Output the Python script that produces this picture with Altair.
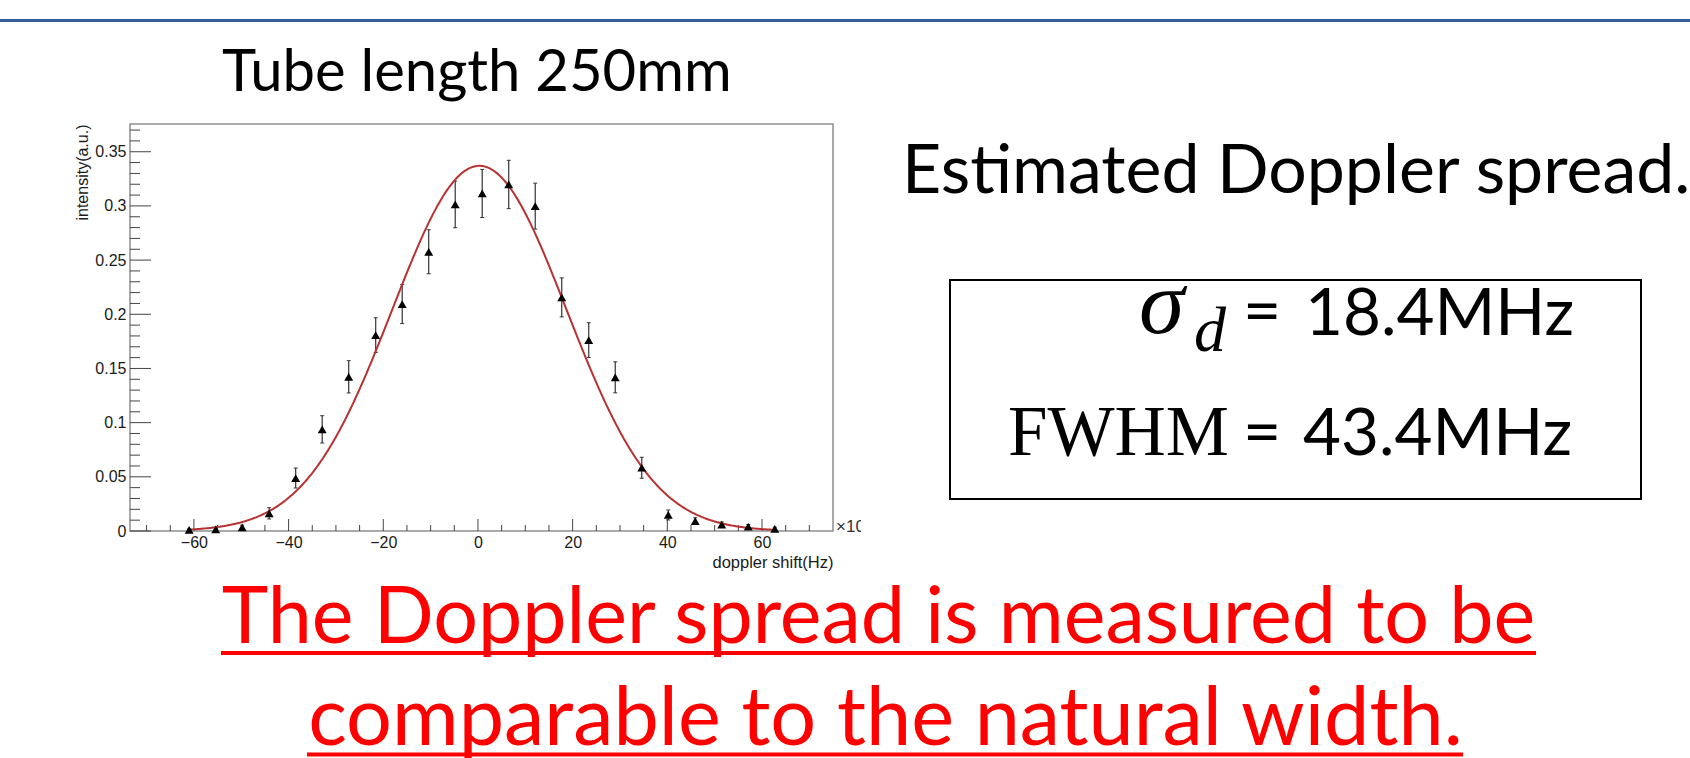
import altair as alt
import pandas as pd

# Measured Doppler profile (shift in units of 10^6 Hz)
shift = [-61.0, -55.4, -49.8, -44.1, -38.5, -32.9, -27.3, -21.6, -16.0, -10.4, -4.8, 0.9,
         6.5, 12.1, 17.7, 23.4, 29.0, 34.6, 40.2, 45.9, 51.5, 57.1, 62.7]
intensity = [0.001, 0.0015, 0.0034, 0.0163, 0.0489, 0.0938, 0.1423, 0.1808, 0.2094, 0.2577,
             0.3014, 0.3115, 0.3198, 0.2998, 0.2156, 0.1762, 0.1418, 0.0584, 0.0148, 0.0092,
             0.0058, 0.004, 0.002]
intensity_err = [0.001, 0.0015, 0.002, 0.0052, 0.0092, 0.0126, 0.0149, 0.016, 0.018, 0.0203,
                 0.0215, 0.0222, 0.0223, 0.0212, 0.018, 0.016, 0.0143, 0.0097, 0.0046, 0.003,
                 0.0025, 0.002, 0.0015]

# Gaussian fit of the profile
FIT_AMP = 0.337
FIT_MEAN = 0.3
FIT_SIGMA = 18.4
FIT_FROM, FIT_TO = -61.0, 63.0

# Axis ticks
X_MAJOR = [-60, -40, -20, 0, 20, 40, 60]
X_MINOR = [-70, -65, -55, -50, -45, -35, -30, -25, -15, -10, -5,
           5, 10, 15, 25, 30, 35, 45, 50, 55, 65, 70]
Y_MAJOR = [0, 0.05, 0.1, 0.15, 0.2, 0.25, 0.3, 0.35]
Y_MINOR = [0.01, 0.02, 0.03, 0.04, 0.06, 0.07, 0.08, 0.09, 0.11, 0.12, 0.13, 0.14,
           0.16, 0.17, 0.18, 0.19, 0.21, 0.22, 0.23, 0.24, 0.26, 0.27, 0.28, 0.29,
           0.31, 0.32, 0.33, 0.34, 0.36, 0.37]

# Slide texts
TITLE = "Tube length 250mm"
HEADING = "Estimated Doppler spread."
SIGMA_VALUE = "18.4MHz"
FWHM_VALUE = "43.4MHz"
CONCLUSION = ["The Doppler spread is measured to be", "comparable to the natural width."]

# Page and plot-frame geometry (pixels)
PAGE_W, PAGE_H = 1690, 758
LEFT, TOP, PW, PH = 130, 124, 703, 407

SANS = "Lato"
PLOT_FONT = "Liberation Sans"
SERIF = "Liberation Serif"

xscale = alt.Scale(domain=[-73.5, 75.0], nice=False, zero=False)
yscale = alt.Scale(domain=[0, 0.3756], nice=False, zero=False)

df = pd.DataFrame({"shift": shift, "intensity": intensity, "err": intensity_err})
df["lo"] = df["intensity"] - df["err"]
df["hi"] = df["intensity"] + df["err"]

x_axis = alt.Axis(
    values=X_MAJOR, format="d", ticks=False, tickSize=0, domain=False, grid=False,
    labelFont=PLOT_FONT, labelFontSize=16, labelColor="#1a1a1a", labelPadding=3,
    labelFlush=False, labelOverlap=False,
    title="doppler shift(Hz)", titleFont=PLOT_FONT, titleFontSize=16.5,
    titleFontWeight="normal", titleColor="#1a1a1a", titleAnchor="end",
    titleAlign="right", titleX=PW, titleY=31, titleBaseline="middle")
y_axis = alt.Axis(
    values=Y_MAJOR, format=".2~f", ticks=False, tickSize=0, domain=False, grid=False,
    labelFont=PLOT_FONT, labelFontSize=16, labelColor="#1a1a1a", labelPadding=4,
    labelFlush=False, labelOverlap=False,
    title="intensity(a.u.)", titleFont=PLOT_FONT, titleFontSize=16,
    titleFontWeight="normal", titleColor="#1a1a1a", titleAngle=270,
    titleAlign="right", titleBaseline="middle", titleX=-48, titleY=0)

points = alt.Chart(df).mark_point(
    shape="triangle-up", filled=True, size=80, color="black", opacity=1
).encode(
    x=alt.X("shift:Q", scale=xscale, axis=x_axis),
    y=alt.Y("intensity:Q", scale=yscale, axis=y_axis),
)

bars = alt.Chart(df).mark_rule(color="#333", strokeWidth=1.2).encode(
    x=alt.X("shift:Q", scale=xscale, axis=x_axis),
    y=alt.Y("lo:Q", scale=yscale, axis=y_axis),
    y2="hi:Q",
)
cap_lo = alt.Chart(df).mark_tick(orient="horizontal", size=4, thickness=1, color="#333", opacity=1).encode(
    x=alt.X("shift:Q", scale=xscale, axis=x_axis),
    y=alt.Y("lo:Q", scale=yscale, axis=y_axis),
)
cap_hi = alt.Chart(df).mark_tick(orient="horizontal", size=4, thickness=1, color="#333", opacity=1).encode(
    x=alt.X("shift:Q", scale=xscale, axis=x_axis),
    y=alt.Y("hi:Q", scale=yscale, axis=y_axis),
)

fit = alt.Chart(alt.sequence(FIT_FROM, FIT_TO + 0.01, 0.25, as_="x")).transform_calculate(
    y=f"{FIT_AMP} * exp(-0.5 * pow((datum.x - {FIT_MEAN}) / {FIT_SIGMA}, 2))"
).mark_line(color="#b83232", strokeWidth=2).encode(
    x=alt.X("x:Q", scale=xscale, axis=x_axis),
    y=alt.Y("y:Q", scale=yscale, axis=y_axis),
)


def yticks(values, length):
    return alt.Chart(pd.DataFrame({"v": values})).mark_rule(color="#444", strokeWidth=1).encode(
        y=alt.Y("v:Q", scale=yscale, axis=y_axis), x=alt.value(0), x2=alt.value(length))


def xticks(values, length):
    return alt.Chart(pd.DataFrame({"v": values})).mark_rule(color="#444", strokeWidth=1).encode(
        x=alt.X("v:Q", scale=xscale, axis=x_axis), y=alt.value(PH), y2=alt.value(PH - length))


def text(s, x, y, size, font=SANS, color="black", align="left", style="normal"):
    return alt.Chart(alt.InlineData(values=[{"t": s}])).mark_text(
        align=align, baseline="alphabetic", font=font, fontSize=size, color=color,
        fontStyle=style
    ).encode(x=alt.value(x - LEFT), y=alt.value(y - TOP), text="t:N")


def hline(x1, x2, y, color, width):
    return alt.Chart(alt.InlineData(values=[{}])).mark_rule(color=color, strokeWidth=width).encode(
        x=alt.value(x1 - LEFT), x2=alt.value(x2 - LEFT), y=alt.value(y - TOP))


def box(x1, y1, x2, y2, **style):
    return alt.Chart(alt.InlineData(values=[{}])).mark_rect(**style).encode(
        x=alt.value(x1 - LEFT), x2=alt.value(x2 - LEFT),
        y=alt.value(y1 - TOP), y2=alt.value(y2 - TOP))


layers = [
    yticks(Y_MAJOR, 21), yticks(Y_MINOR, 10),
    xticks(X_MAJOR, 12), xticks(X_MINOR, 6),
    bars, cap_lo, cap_hi, fit, points,
    # exponent marker, cut by the edge of the plot image
    text("\u00d710", 836, 532, 17, font=PLOT_FONT, color="#333"),
    box(861, 512, 895, 542, color="white"),
    # slide furniture
    hline(0, PAGE_W, 20.5, "#3a5d9c", 3),
    text(TITLE, 222, 91, 58),
    text(HEADING, 902, 193, 68),
    box(950, 280, 1641, 499, fillOpacity=0, stroke="black", strokeWidth=2),
    text("\u03c3", 1139, 333, 92, font=SERIF, style="italic"),
    text("d", 1194, 351, 64, font=SERIF, style="italic"),
    text("=", 1243, 334, 66),
    text(SIGMA_VALUE, 1305, 335, 65.5),
    text("FWHM", 1008, 455, 71, font=SERIF),
    text("=", 1243, 455, 66),
    text(FWHM_VALUE, 1303, 455, 65.5),
    text(CONCLUSION[0], 878.5, 643, 79, color="#ff0000", align="center"),
    hline(221, 1536, 653, "#ff0000", 4),
    text(CONCLUSION[1], 885.5, 745, 81, color="#ff0000", align="center"),
    hline(307, 1463, 754.5, "#ff0000", 4),
]

chart = alt.layer(*layers).properties(
    width=PW, height=PH,
    padding={"left": LEFT, "top": TOP, "right": PAGE_W - LEFT - PW, "bottom": PAGE_H - TOP - PH},
    autosize=alt.AutoSizeParams(type="none"),
    background="white",
).configure_view(stroke="#8f8f8f", strokeWidth=1.5)

chart.save("out.html", embed_options={"renderer": "svg", "actions": False})
